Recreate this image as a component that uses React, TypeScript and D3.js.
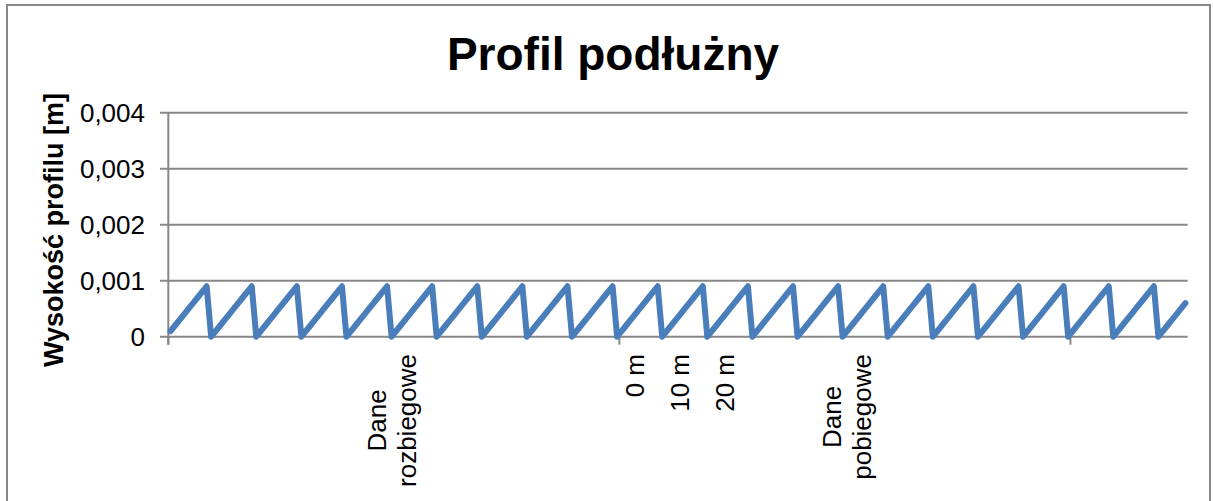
import React from "react";
import * as d3 from "d3";

// Profile heights [m] for each category
const heights: number[] = [
  0.0001, 0.0002, 0.0003, 0.0004, 0.0005, 0.0006, 0.0007, 0.0008, 0.0009, 0,
  0.0001, 0.0002, 0.0003, 0.0004, 0.0005, 0.0006, 0.0007, 0.0008, 0.0009, 0,
  0.0001, 0.0002, 0.0003, 0.0004, 0.0005, 0.0006, 0.0007, 0.0008, 0.0009, 0,
  0.0001, 0.0002, 0.0003, 0.0004, 0.0005, 0.0006, 0.0007, 0.0008, 0.0009, 0,
  0.0001, 0.0002, 0.0003, 0.0004, 0.0005, 0.0006, 0.0007, 0.0008, 0.0009, 0,
  0.0001, 0.0002, 0.0003, 0.0004, 0.0005, 0.0006, 0.0007, 0.0008, 0.0009, 0,
  0.0001, 0.0002, 0.0003, 0.0004, 0.0005, 0.0006, 0.0007, 0.0008, 0.0009, 0,
  0.0001, 0.0002, 0.0003, 0.0004, 0.0005, 0.0006, 0.0007, 0.0008, 0.0009, 0,
  0.0001, 0.0002, 0.0003, 0.0004, 0.0005, 0.0006, 0.0007, 0.0008, 0.0009, 0,
  0.0001, 0.0002, 0.0003, 0.0004, 0.0005, 0.0006, 0.0007, 0.0008, 0.0009, 0,
  0.0001, 0.0002, 0.0003, 0.0004, 0.0005, 0.0006, 0.0007, 0.0008, 0.0009, 0,
  0.0001, 0.0002, 0.0003, 0.0004, 0.0005, 0.0006, 0.0007, 0.0008, 0.0009, 0,
  0.0001, 0.0002, 0.0003, 0.0004, 0.0005, 0.0006, 0.0007, 0.0008, 0.0009, 0,
  0.0001, 0.0002, 0.0003, 0.0004, 0.0005, 0.0006, 0.0007, 0.0008, 0.0009, 0,
  0.0001, 0.0002, 0.0003, 0.0004, 0.0005, 0.0006, 0.0007, 0.0008, 0.0009, 0,
  0.0001, 0.0002, 0.0003, 0.0004, 0.0005, 0.0006, 0.0007, 0.0008, 0.0009, 0,
  0.0001, 0.0002, 0.0003, 0.0004, 0.0005, 0.0006, 0.0007, 0.0008, 0.0009, 0,
  0.0001, 0.0002, 0.0003, 0.0004, 0.0005, 0.0006, 0.0007, 0.0008, 0.0009, 0,
  0.0001, 0.0002, 0.0003, 0.0004, 0.0005, 0.0006, 0.0007, 0.0008, 0.0009, 0,
  0.0001, 0.0002, 0.0003, 0.0004, 0.0005, 0.0006, 0.0007, 0.0008, 0.0009, 0,
  0.0001, 0.0002, 0.0003, 0.0004, 0.0005, 0.0006, 0.0007, 0.0008, 0.0009, 0,
  0.0001, 0.0002, 0.0003, 0.0004, 0.0005, 0.0006, 0.0007, 0.0008, 0.0009, 0,
  0.0001, 0.0002, 0.0003, 0.0004, 0.0005, 0.0006,
];

// Category labels (most categories have an empty label)
const labelIndex: number[] = [49, 103, 113, 123, 150];
const labelText: string[] = ["Dane\nrozbiegowe", "0 m", "10 m", "20 m", "Dane\npobiegowe"];

// Y axis ticks
const yTicks: number[] = [0, 0.001, 0.002, 0.003, 0.004];
const yTickLabels: string[] = ["0", "0,001", "0,002", "0,003", "0,004"];

// Major x tick interval (categories)
const xTickEvery = 100;

const titleText = "Profil podłużny";
const yTitleText = "Wysokość profilu [m]";

const W = 1213;
const H = 501;
const FONT = "'Liberation Sans', Arial, sans-serif";

function RotatedLabel({ lines, cx, lh, fs, top }: { lines: string[]; cx: number; lh: number; fs: number; top: number }) {
  const ref = React.useRef<SVGTextElement>(null);
  const longest = lines.reduce((a, b) => (b.length > a.length ? b : a));
  const [len, setLen] = React.useState(longest.length * fs * 0.52);
  React.useLayoutEffect(() => {
    if (ref.current) setLen(ref.current.getComputedTextLength());
  }, []);
  const n = lines.length;
  const midY = top + len / 2;
  return (
    <g>
      <text ref={ref} fontSize={fs} style={{ visibility: "hidden" }} x={-1000} y={-1000}>
        {longest}
      </text>
      {lines.map((s, j) => (
        <text
          key={j}
          transform={`translate(${cx + fs * 0.345 + (j - (n - 1) / 2) * lh},${midY}) rotate(-90)`}
          textAnchor="middle"
          fontSize={fs}
          fill="#000"
        >
          {s}
        </text>
      ))}
    </g>
  );
}

export default function App() {
  const left = 168.3;
  const right = 1187.7;
  const top = 112.7;
  const bottom = 336.7;

  const idx = heights.map((_, i) => i);
  const x = d3.scaleBand<number>().domain(idx).range([left, right]).padding(0);
  const bw = x.bandwidth();
  const y = d3.scaleLinear().domain([0, 0.004]).range([bottom, top]);

  const line = d3
    .line<number>()
    .x((_, i) => (x(i) as number) + bw / 2)
    .y((d) => y(d));

  const grid = "#878787";
  const fs = 26;

  const tickBoundaries: number[] = [];
  for (let k = 0; k < heights.length; k += xTickEvery) tickBoundaries.push(k);

  return (
    <svg
      width={W}
      height={H}
      style={{ position: "absolute", left: 0, top: 0, background: "#fff" }}
      fontFamily={FONT}
    >
      <rect x={0} y={0} width={W} height={H} fill="#fff" />
      <rect x={7} y={5} width={1203} height={520} fill="none" stroke={grid} strokeWidth={2} />

      <text x={613} y={70} textAnchor="middle" fontSize={46} fontWeight="bold" fill="#000">
        {titleText}
      </text>

      {/* gridlines + y ticks */}
      {yTicks.map((t, i) => (
        <g key={i}>
          <line x1={160} x2={right} y1={y(t)} y2={y(t)} stroke={grid} strokeWidth={2} />
          <text x={145} y={y(t) + fs * 0.358} textAnchor="end" fontSize={fs} fill="#000">
            {yTickLabels[i]}
          </text>
        </g>
      ))}

      {/* y axis line */}
      <line x1={left} x2={left} y1={top} y2={bottom + 8} stroke={grid} strokeWidth={2} />

      {/* x tick marks */}
      {tickBoundaries.map((k) => (
        <line key={k} x1={x(k) as number} x2={x(k) as number} y1={bottom} y2={bottom + 8} stroke={grid} strokeWidth={2} />
      ))}

      {/* y axis title */}
      <text
        transform={`translate(63,230) rotate(-90)`}
        textAnchor="middle"
        fontSize={27}
        fontWeight="bold"
        fill="#000"
      >
        {yTitleText}
      </text>

      {/* category labels */}
      {labelIndex.map((k, i) => (
        <RotatedLabel
          key={i}
          lines={labelText[i].split("\n")}
          cx={(x(k) as number) + bw / 2}
          lh={30}
          fs={fs}
          top={354}
        />
      ))}

      <path
        d={line(heights) || ""}
        fill="none"
        stroke="#4A7EBB"
        strokeWidth={6}
        strokeLinejoin="round"
        strokeLinecap="round"
      />
    </svg>
  );
}
